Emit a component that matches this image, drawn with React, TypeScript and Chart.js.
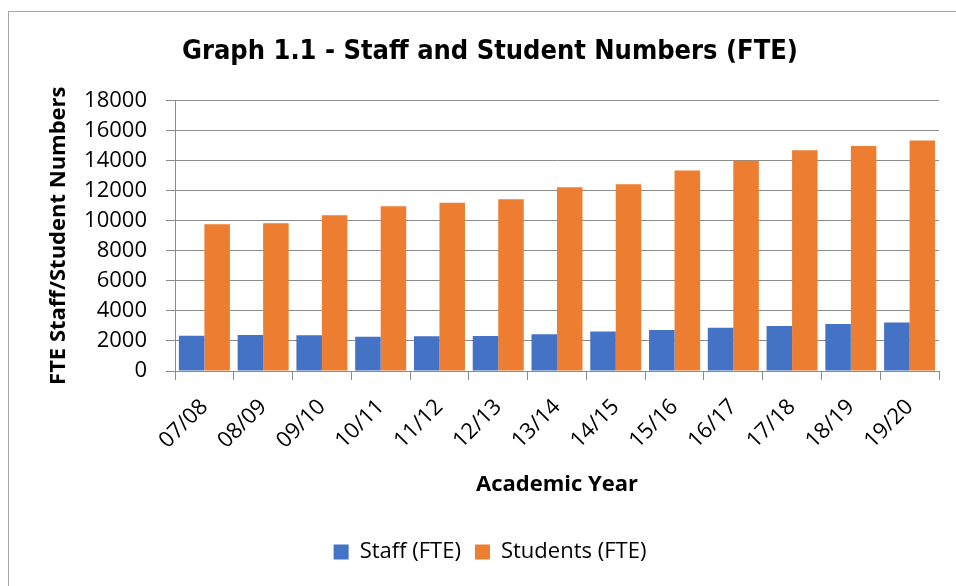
import React, { useEffect, useRef } from "react";
import { Chart, registerables } from "chart.js";

Chart.register(...registerables);

const categories = ["07/08", "08/09", "09/10", "10/11", "11/12", "12/13", "13/14", "14/15", "15/16", "16/17", "17/18", "18/19", "19/20"];
const staffFTE = [2340, 2400, 2380, 2270, 2310, 2330, 2440, 2620, 2730, 2870, 3000, 3130, 3220];
const studentsFTE = [9760, 9820, 10360, 10960, 11200, 11420, 12220, 12420, 13330, 13980, 14690, 14960, 15330];
const titleText = "Graph 1.1 - Staff and Student Numbers (FTE)";
const yTitle = "FTE Staff/Student Numbers";
const xTitle = "Academic Year";

export default function App() {
  const ref = useRef<HTMLCanvasElement>(null);
  useEffect(() => {
    if (!ref.current) return;
    const gridColor = "#8c8c8c";
    const chart = new Chart(ref.current, {
      type: "bar",
      data: {
        labels: categories,
        datasets: [
          { label: "Staff (FTE)", data: staffFTE, backgroundColor: "#4472C4", categoryPercentage: 0.868, barPercentage: 1 },
          { label: "Students (FTE)", data: studentsFTE, backgroundColor: "#ED7D31", categoryPercentage: 0.868, barPercentage: 1 },
        ],
      },
      options: {
        animation: false,
        responsive: false,
        maintainAspectRatio: false,
        layout: { padding: { left: 32, right: 32, top: 0, bottom: 13 } },
        plugins: {
          title: {
            display: true,
            text: titleText,
            color: "#000",
            font: { family: "'DejaVu Sans Condensed', 'DejaVu Sans'", size: 27, weight: "bold", lineHeight: 1.2 },
            padding: { top: 24, bottom: 32 },
          },
          legend: {
            position: "bottom",
            labels: {
              color: "#000",
              font: { family: "'Open Sans'", size: 22 },
              boxWidth: 15,
              boxHeight: 15,
              padding: 14,
            },
          },
          tooltip: { enabled: false },
        },
        scales: {
          x: {
            offset: true,
            grid: { drawOnChartArea: false, drawTicks: true, tickLength: 9, color: gridColor, offset: true },
            border: { color: gridColor },
            ticks: { color: "#000", font: { family: "'Open Sans'", size: 22 }, maxRotation: 45, minRotation: 45, padding: 14, autoSkip: false },
            title: { display: true, text: xTitle, color: "#000", font: { family: "'Open Sans'", size: 22, weight: "bold", lineHeight: 1.2 }, padding: { top: 0, bottom: 29 } },
            afterFit: (s: any) => { s.height = 156; },
          },
          y: {
            min: 0,
            max: 18000,
            grid: { color: gridColor, tickLength: 9, drawTicks: true },
            border: { color: gridColor },
            ticks: { stepSize: 2000, color: "#000", font: { family: "'Open Sans'", size: 22 }, padding: 19, callback: (v: any) => String(v) },
            title: { display: true, text: yTitle, color: "#000", font: { family: "'Open Sans'", size: 22, weight: "bold", lineHeight: 1.2 }, padding: { top: 5, bottom: 0 } },
            afterFit: (s: any) => { s.width = 134; },
          },
        },
      },
    });
    return () => chart.destroy();
  }, []);
  return (
    <div style={{ position: "fixed", left: 0, top: 0, width: 956, height: 586, overflow: "hidden", background: "#fff" }}>
      <div style={{ position: "absolute", left: 8, top: 11, width: 964, height: 600, border: "1px solid #a6a6a6", background: "#fff" }}>
        <canvas ref={ref} width={962} height={574} style={{ display: "block", width: 962, height: 574 }} />
      </div>
    </div>
  );
}
